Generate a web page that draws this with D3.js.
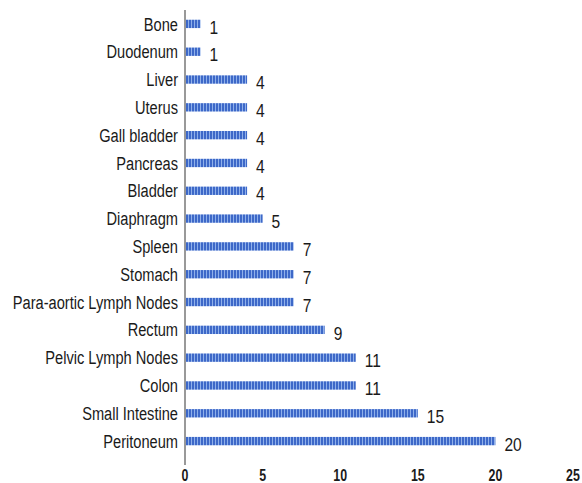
<!DOCTYPE html>
<html>
<head>
<meta charset="utf-8">
<script src="https://cdn.jsdelivr.net/npm/d3@7"></script>
<style>
  body { margin: 0; background: #fff; }
  text { font-family: "Liberation Sans", Arial, sans-serif; }
</style>
</head>
<body>
<div id="chart"></div>
<script>
// organ sites, top to bottom
var sites = ["Bone", "Duodenum", "Liver", "Uterus", "Gall bladder", "Pancreas", "Bladder",
  "Diaphragm", "Spleen", "Stomach", "Para-aortic Lymph Nodes", "Rectum",
  "Pelvic Lymph Nodes", "Colon", "Small Intestine", "Peritoneum"];
var counts = [1, 1, 4, 4, 4, 4, 4, 5, 7, 7, 7, 9, 11, 11, 15, 20];
var xTicks = [0, 5, 10, 15, 20, 25];

var width = 582, height = 483;
var margin = {top: 10, right: 9, bottom: 28, left: 185};

var svg = d3.select("#chart").append("svg")
  .attr("width", width)
  .attr("height", height);

// striped fill like the original
var pat = svg.append("defs").append("pattern")
  .attr("id", "stripe")
  .attr("patternUnits", "userSpaceOnUse")
  .attr("width", 3).attr("height", 8);
pat.append("rect").attr("width", 3).attr("height", 8).attr("fill", "#3d68c8");
pat.append("rect").attr("x", 2).attr("width", 1).attr("height", 8).attr("fill", "#8fb0ea");

var x = d3.scaleLinear()
  .domain([0, 25])
  .range([margin.left, width - margin.right]);

var y = d3.scaleBand()
  .domain(sites)
  .range([margin.top, 455])
  .paddingInner(0.7)
  .paddingOuter(0.35);

var data = sites.map(function(s, i) { return {site: s, n: counts[i]}; });

svg.append("g")
  .selectAll("rect")
  .data(data)
  .enter().append("rect")
  .attr("x", x(0) + 1)
  .attr("y", function(d) { return y(d.site); })
  .attr("width", function(d) { return x(d.n) - x(0) - 1; })
  .attr("height", y.bandwidth())
  .attr("fill", "url(#stripe)");

// value labels (squeezed to mimic a condensed face)
svg.append("g")
  .selectAll("text")
  .data(data)
  .enter().append("text")
  .attr("transform", function(d) {
    return "translate(" + (x(d.n) + 9) + "," + (y(d.site) + y.bandwidth() / 2 + 3) + ") scale(0.82,1)";
  })
  .attr("dy", "0.35em")
  .attr("font-size", 19)
  .attr("fill", "#1a1a1a")
  .text(function(d) { return d.n; });

// category labels
svg.append("g")
  .selectAll("text")
  .data(sites)
  .enter().append("text")
  .attr("transform", function(d) {
    return "translate(" + (margin.left - 7) + "," + (y(d) + y.bandwidth() / 2) + ") scale(0.77,1)";
  })
  .attr("dy", "0.35em")
  .attr("text-anchor", "end")
  .attr("font-size", 19)
  .attr("fill", "#1a1a1a")
  .text(function(d) { return d; });

// vertical axis line
svg.append("line")
  .attr("x1", x(0)).attr("x2", x(0))
  .attr("y1", margin.top).attr("y2", 465)
  .attr("stroke", "#777")
  .attr("stroke-width", 1.5);

// x tick labels (no axis line)
svg.append("g")
  .selectAll("text")
  .data(xTicks)
  .enter().append("text")
  .attr("transform", function(d) { return "translate(" + x(d) + ",481) scale(0.75,1)"; })
  .attr("text-anchor", "middle")
  .attr("font-size", 16.5)
  .attr("font-weight", "bold")
  .attr("fill", "#1a1a1a")
  .text(function(d) { return d; });
</script>
</body>
</html>
